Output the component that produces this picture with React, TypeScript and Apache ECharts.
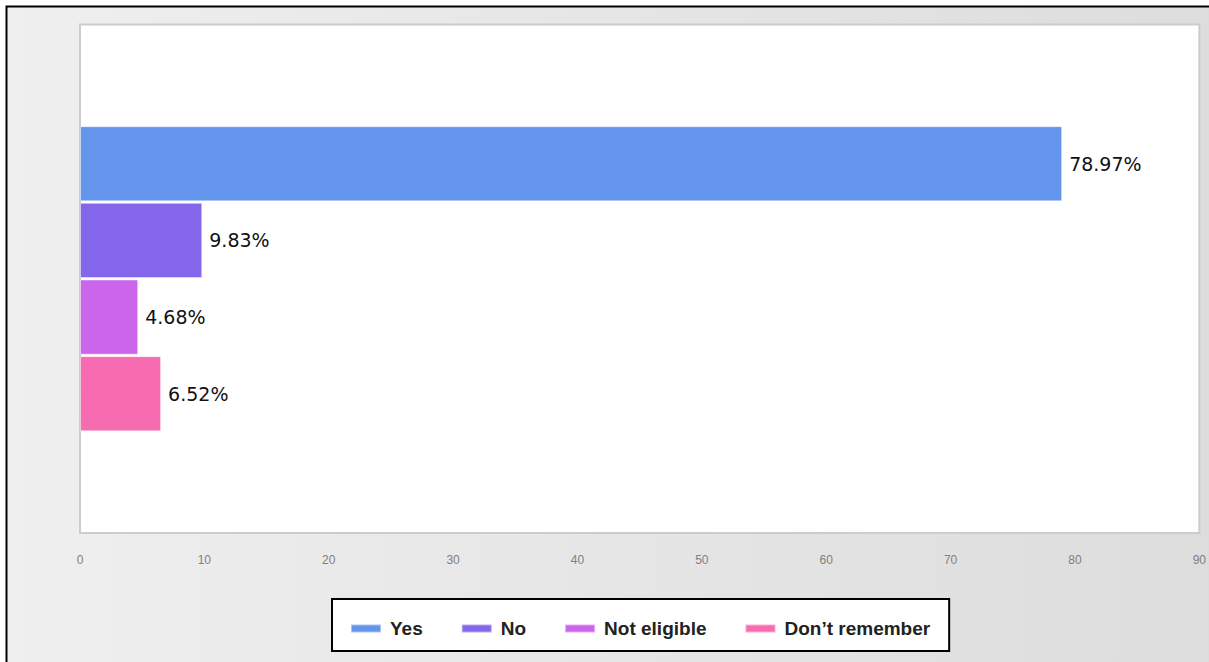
import React, { useEffect, useRef } from "react";
import * as echarts from "echarts";

const seriesNames = ["Yes", "No", "Not eligible", "Don\u2019t remember"];
const seriesValues = [78.97, 9.83, 4.68, 6.52];
const seriesColors = ["#6495EC", "#8366EA", "#CB66EB", "#F76BB0"];
const categories = [""];
const xMin = 0;
const xMax = 90;
const xInterval = 10;

export default function App() {
  const ref = useRef<HTMLDivElement>(null);
  useEffect(() => {
    document.body.style.margin = "0";
    const chart = echarts.init(ref.current!, null, { renderer: "svg" });
    const series = seriesNames.map((name, i) => ({
      name,
      type: "bar",
      data: [seriesValues[i]],
      barGap: "2%",
      barCategoryGap: "40%",
      itemStyle: {
        color: seriesColors[i],
        borderColor: "rgba(255,255,255,0.45)",
        borderWidth: 1,
      },
      label: {
        show: true,
        position: "right",
        distance: 7,
        formatter: (p: any) => p.value.toFixed(2) + "%",
        color: "#111",
        fontFamily: "DejaVu Sans",
        fontSize: 19,
      },
    }));
    chart.setOption({
      animation: false,
      graphic: [
        {
          type: "rect",
          z: -10,
          shape: { x: 6.5, y: 6.5, width: 1260, height: 700 },
          style: {
            fill: new echarts.graphic.LinearGradient(0, 0, 1, 0, [
              { offset: 0, color: "#efefef" },
              { offset: 1, color: "#dcdcdc" },
            ]),
            stroke: "#000",
            lineWidth: 2,
          },
        },
      ],
      grid: {
        left: 80,
        top: 24.5,
        right: 7,
        bottom: 129,
        show: true,
        backgroundColor: "#ffffff",
        borderColor: "#cccccc",
        borderWidth: 2,
        z: 0,
      },
      legend: {
        data: seriesNames,
        left: 332,
        top: 599,
        padding: [20, 19, 13, 18],
        backgroundColor: "#ffffff",
        borderColor: "#000000",
        borderWidth: 2,
        itemWidth: 30,
        itemHeight: 8,
        itemGap: 38,
        icon: "rect",
        textStyle: {
          fontFamily: "Liberation Sans",
          fontWeight: "bold",
          fontSize: 19,
          color: "#222",
          padding: [0, 0, 0, 4],
        },
      },
      xAxis: {
        type: "value",
        min: xMin,
        max: xMax,
        interval: xInterval,
        axisLine: { show: false },
        axisTick: { show: false },
        splitLine: { show: false },
        axisLabel: {
          margin: 21,
          color: "#808080",
          fontFamily: "Liberation Sans",
          fontSize: 12,
        },
      },
      yAxis: {
        type: "category",
        data: categories,
        inverse: true,
        axisLine: { show: false },
        axisTick: { show: false },
        axisLabel: { show: false },
      },
      series,
    });
    return () => chart.dispose();
  }, []);
  return <div ref={ref} style={{ width: 1209, height: 662 }} />;
}
